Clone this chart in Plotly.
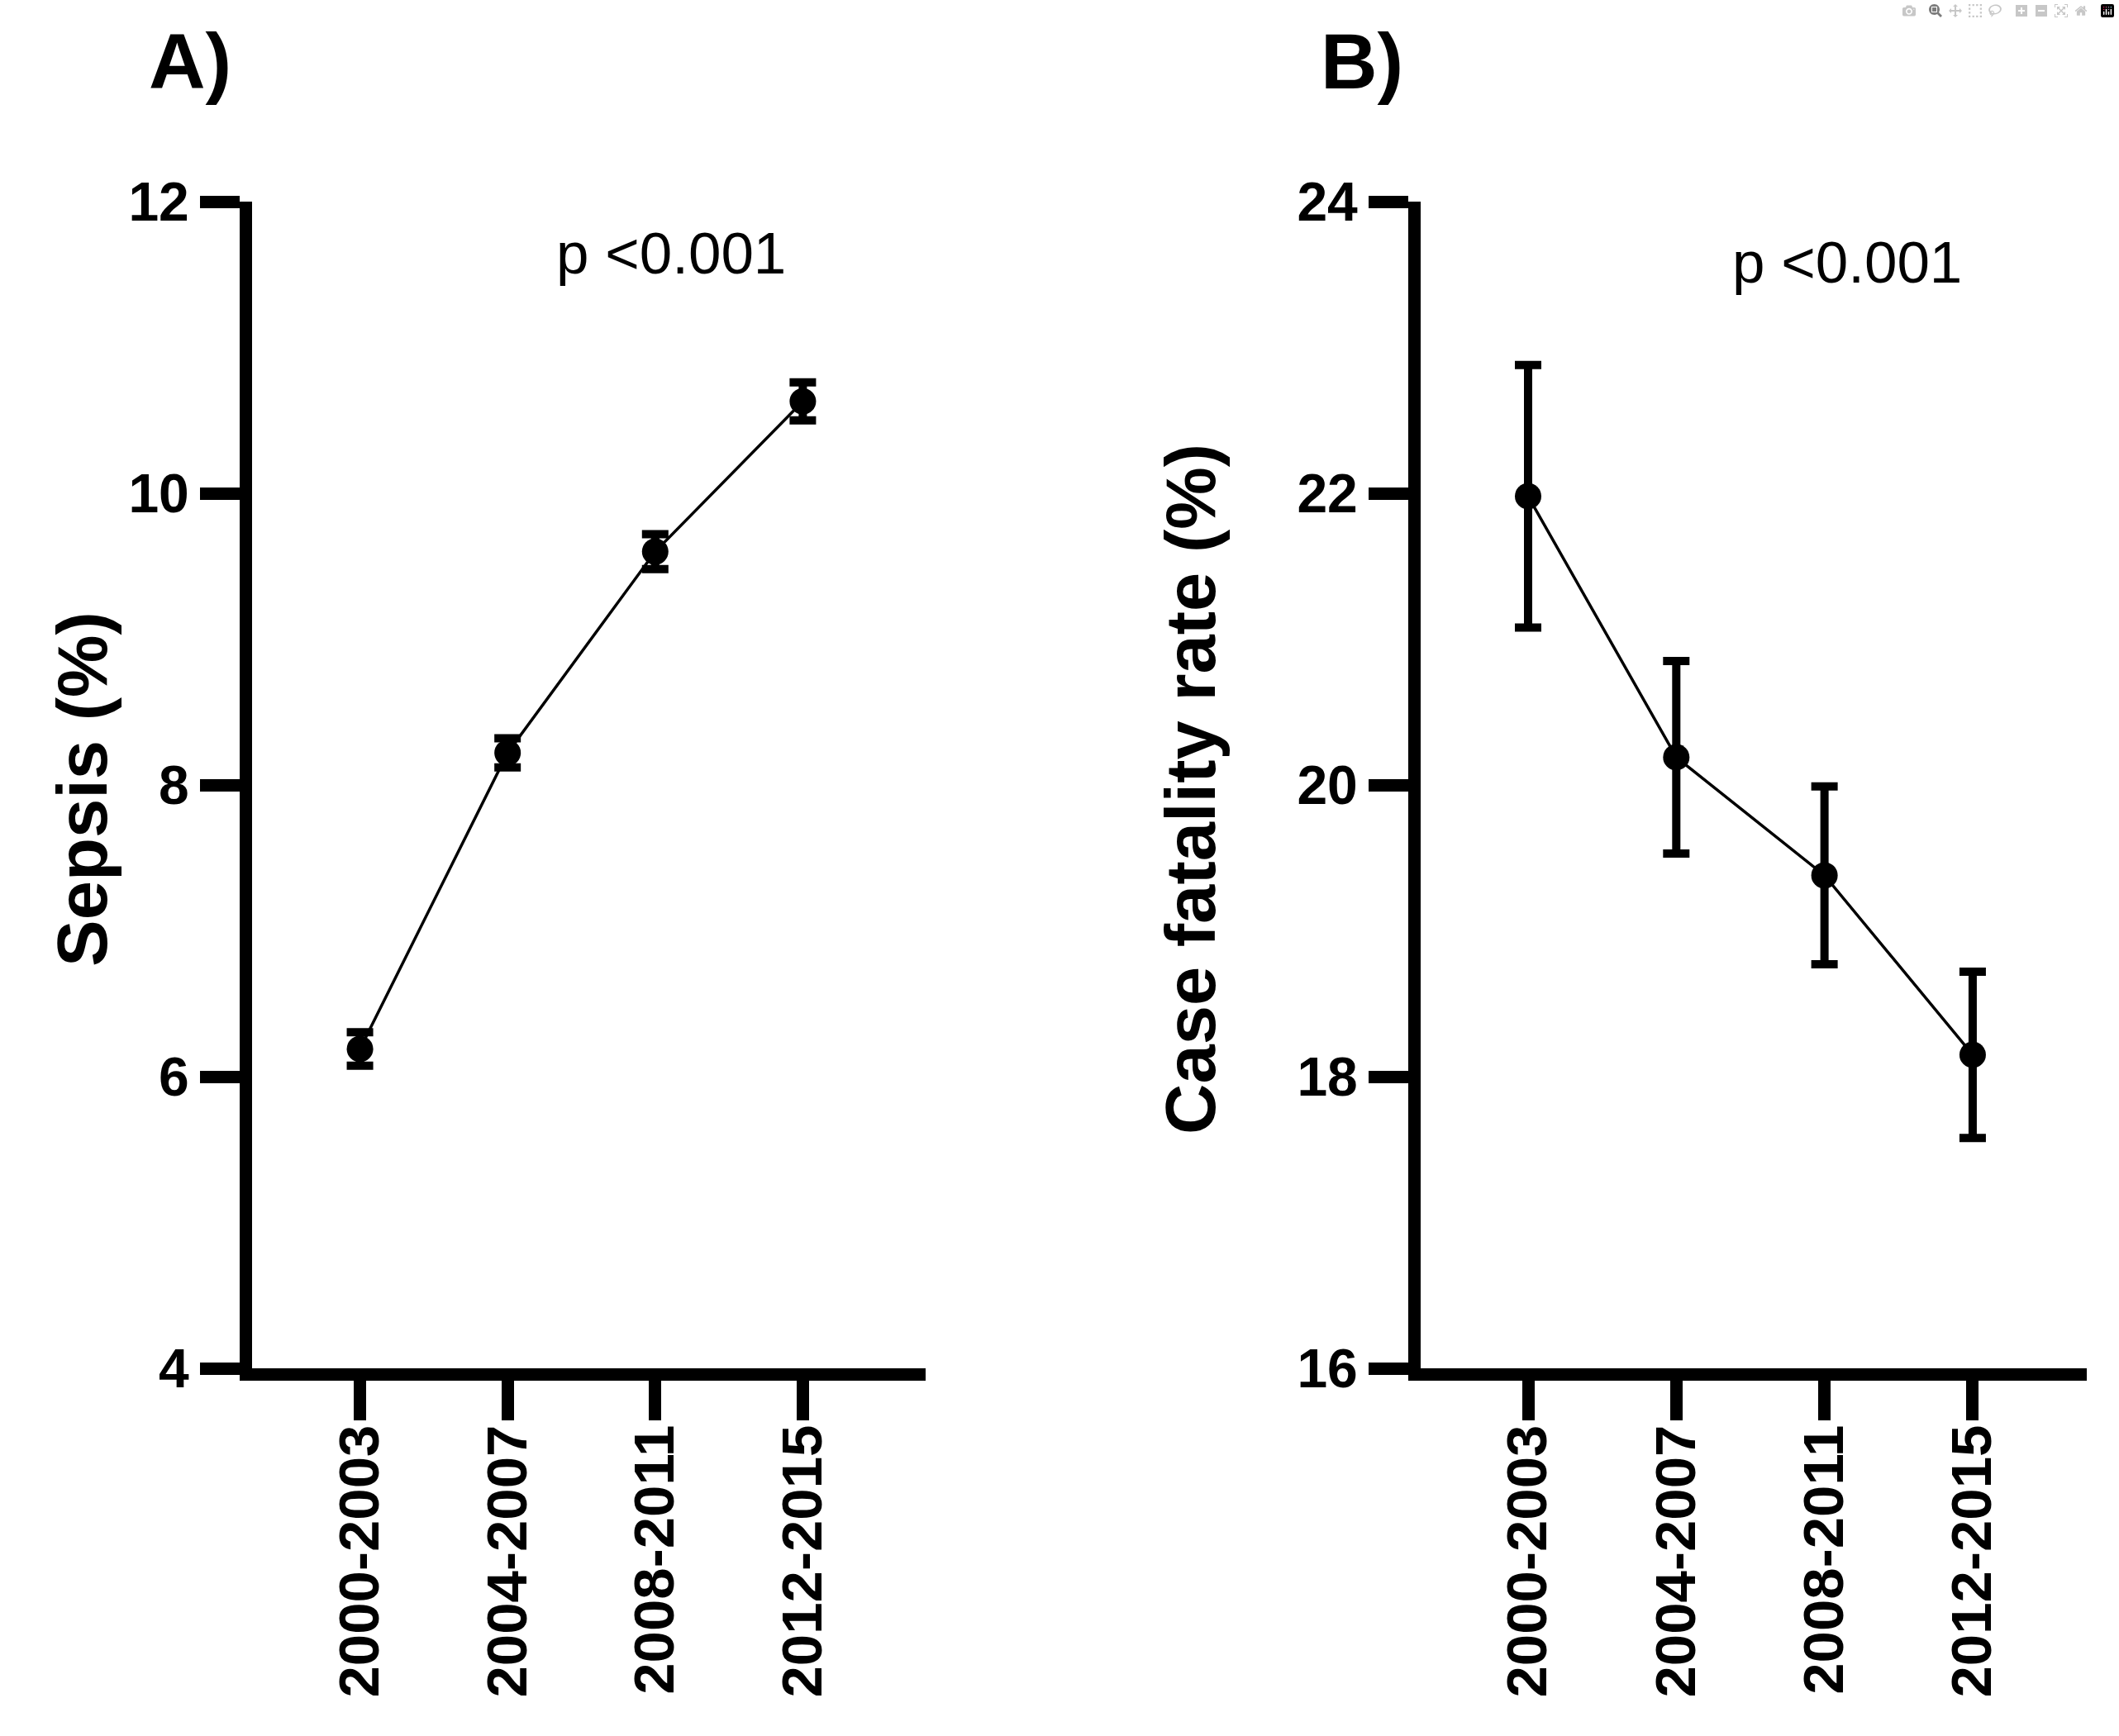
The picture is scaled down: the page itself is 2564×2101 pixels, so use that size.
import plotly.graph_objects as go

# ---- data ----
periods = ["2000-2003", "2004-2007", "2008-2011", "2012-2015"]
sepsis_pct = [6.19, 8.22, 9.60, 10.63]
sepsis_err = [0.115, 0.10, 0.12, 0.13]
cfr_pct = [21.98, 20.19, 19.38, 18.15]
cfr_err = [0.90, 0.66, 0.61, 0.57]
sepsis_ticks = [4, 6, 8, 10, 12]
cfr_ticks = [16, 18, 20, 22, 24]

W, H = 2564, 2101
FONT = "Liberation Sans, Arial, sans-serif"
AXW = 15

def px(v):
    return v / W

def py(v):
    return 1 - v / H

fig = go.Figure()

fig.add_trace(go.Scatter(
    x=periods, y=sepsis_pct, mode="lines+markers",
    line=dict(color="black", width=3.5),
    marker=dict(color="black", size=32),
    error_y=dict(type="data", array=sepsis_err, color="black", thickness=10, width=16),
    xaxis="x", yaxis="y", showlegend=False,
))
fig.add_trace(go.Scatter(
    x=periods, y=cfr_pct, mode="lines+markers",
    line=dict(color="black", width=3.5),
    marker=dict(color="black", size=32),
    error_y=dict(type="data", array=cfr_err, color="black", thickness=10, width=16),
    xaxis="x2", yaxis="y2", showlegend=False,
))

xcommon = dict(
    type="category", showline=True, linecolor="black", linewidth=AXW,
    ticks="outside", ticklen=48, tickwidth=AXW, tickcolor="black",
    tickangle=-90, showgrid=False, zeroline=False, automargin=False,
    ticklabelstandoff=-22,
    tickfont=dict(family=FONT, size=69, color="black", weight="bold"),
)
ycommon = dict(
    showline=True, linecolor="black", linewidth=AXW,
    ticks="outside", ticklen=48, tickwidth=AXW, tickcolor="black",
    showgrid=False, zeroline=False, automargin=False,
    tickfont=dict(family=FONT, size=66, color="black", weight="bold"),
)

ydom = [py(1656), py(244)]
fig.update_layout(
    template="none",
    width=W, height=H, autosize=False,
    margin=dict(l=0, r=0, t=0, b=0, pad=0),
    paper_bgcolor="white", plot_bgcolor="white",
    xaxis=dict(xcommon, domain=[px(305), px(1120)], range=[-0.731, 3.832], anchor="y"),
    yaxis=dict(ycommon, domain=ydom, range=[4, 12], tickvals=sepsis_ticks, anchor="x"),
    xaxis2=dict(xcommon, domain=[px(1719), px(2525)], range=[-0.725, 3.77], anchor="y2"),
    yaxis2=dict(ycommon, domain=ydom, range=[16, 24], tickvals=cfr_ticks, anchor="x2"),
)

ann_bold = dict(family=FONT, size=85, color="black", weight="bold")
annotations = [
    dict(text="Sepsis (%)", x=px(99), y=py(955), textangle=-90, font=ann_bold),
    dict(text="Case fatality rate (%)", x=px(1440), y=py(955), textangle=-90, font=ann_bold),
    dict(text="p <0.001", x=px(812), y=py(306), font=dict(family=FONT, size=71, color="black")),
    dict(text="p <0.001", x=px(2235), y=py(318), font=dict(family=FONT, size=71, color="black")),
    dict(text="A)", x=px(230), y=py(74), font=dict(family=FONT, size=95, color="black", weight="bold")),
    dict(text="B)", x=px(1648), y=py(74), font=dict(family=FONT, size=95, color="black", weight="bold")),
]
for a in annotations:
    a.update(xref="paper", yref="paper", showarrow=False, xanchor="center", yanchor="middle")
fig.update_layout(annotations=annotations)

fig.write_html("out.html", post_script="document.body.style.margin='0';document.body.style.overflow='hidden';")
